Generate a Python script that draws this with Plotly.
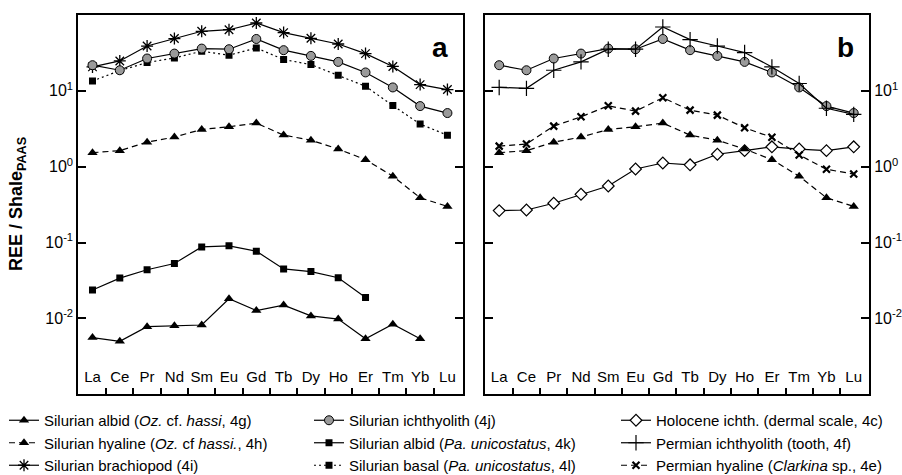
import plotly.graph_objects as go

# ---- data ----
elements = ["La", "Ce", "Pr", "Nd", "Sm", "Eu", "Gd", "Tb", "Dy", "Ho", "Er", "Tm", "Yb", "Lu"]

sil_albid_oz = [0.0056, 0.0050, 0.0078, 0.0080, 0.0082, 0.0182, 0.0127, 0.0150, 0.0108, 0.0098, 0.0054, 0.0084, 0.0054, None]
sil_hyaline_oz = [1.53, 1.63, 2.11, 2.46, 3.10, 3.36, 3.76, 2.61, 2.24, 1.71, 1.24, 0.75, 0.39, 0.30]
sil_brachiopod = [20.7, 24.8, 39.0, 48.9, 61.0, 64.0, 78.5, 58.6, 49.3, 41.5, 31.0, 21.0, 12.1, 10.4]
sil_ichthyolith = [21.8, 18.7, 26.7, 31.0, 36.1, 35.4, 48.3, 34.4, 28.9, 24.1, 17.5, 11.1, 6.3, 5.1]
sil_albid_pa = [0.0237, 0.034, 0.0438, 0.053, 0.0877, 0.0905, 0.077, 0.045, 0.0415, 0.0344, 0.0189, None, None, None]
sil_basal_pa = [13.5, 18.5, 23.6, 27.2, 33.3, 29.5, 36.8, 25.9, 22.2, 16.1, 11.5, 6.4, 3.65, 2.6]
hol_ichth = [0.264, 0.269, 0.33, 0.433, 0.557, 0.933, 1.12, 1.06, 1.46, 1.63, 1.83, 1.71, 1.63, 1.83]
perm_ichth = [11.1, 10.8, 18.7, 24.1, 35.4, 35.4, 69.5, 47.4, 39.0, 32.0, 20.7, 12.5, 5.9, 4.9]
perm_hyaline = [1.87, 1.99, 3.43, 4.55, 6.35, 5.41, 8.1, 5.57, 4.79, 3.26, 2.44, 1.43, 0.925, 0.80]

y_tickvals = [0.01, 0.1, 1, 10]
y_ticktext = ["10<sup>-2</sup>", "10<sup>-1</sup>", "10<sup>0</sup>", "10<sup>1</sup>"]

names = {
    "albid_oz": "Silurian albid (<i>Oz.</i> cf. <i>hassi</i>, 4g)",
    "hyaline_oz": "Silurian hyaline (<i>Oz.</i> cf <i>hassi.</i>, 4h)",
    "brachiopod": "Silurian brachiopod (4i)",
    "ichthyolith": "Silurian ichthyolith (4j)",
    "albid_pa": "Silurian albid (<i>Pa. unicostatus</i>, 4k)",
    "basal_pa": "Silurian basal (<i>Pa. unicostatus</i>, 4l)",
    "holocene": "Holocene ichth. (dermal scale, 4c)",
    "perm_ichth": "Permian ichthyolith (tooth, 4f)",
    "perm_hyaline": "Permian hyaline (<i>Clarkina</i> sp., 4e)",
}

x_pos = list(range(len(elements)))
x_bounds = [i + 0.5 for i in range(len(elements) - 1)]

DASH = "6px,4px"
DOT = "2px,3px"
LW = 1.2

fig = go.Figure()


def add(y, name, xa, ya, symbol, size, mcolor, mline, dash, legend, rank, show=True):
    fig.add_trace(go.Scatter(
        x=x_pos, y=y, name=name, mode="lines+markers",
        xaxis=xa, yaxis=ya,
        line=dict(color="black", width=LW, dash=dash),
        marker=dict(symbol=symbol, size=size, color=mcolor,
                    line=dict(color="black", width=mline)),
        legend=legend, legendrank=rank, showlegend=show,
        connectgaps=False,
    ))


# panel a
add(sil_basal_pa, names["basal_pa"], "x", "y", "square", 7, "black", 0, DOT, "legend2", 3)
add(sil_albid_pa, names["albid_pa"], "x", "y", "square", 7, "black", 0, "solid", "legend2", 2)
add(sil_albid_oz, names["albid_oz"], "x", "y", "triangle-up", 9, "black", 0, "solid", "legend", 1)
add(sil_hyaline_oz, names["hyaline_oz"], "x", "y", "triangle-up", 9, "black", 0, DASH, "legend", 2)
add(sil_brachiopod, names["brachiopod"], "x", "y", "asterisk-open", 10, "black", 1.3, "solid", "legend", 3)
add(sil_ichthyolith, names["ichthyolith"], "x", "y", "circle", 9, "#9a9a9a", 1, "solid", "legend2", 1)

# panel b
add(hol_ichth, names["holocene"], "x2", "y2", "diamond", 9, "white", 1.2, "solid", "legend3", 1)
add(sil_hyaline_oz, names["hyaline_oz"], "x2", "y2", "triangle-up", 9, "black", 0, DASH, "legend", 2, show=False)
add(perm_hyaline, names["perm_hyaline"], "x2", "y2", "x-thin-open", 7, "black", 2.2, DASH, "legend3", 3)
add(sil_ichthyolith, names["ichthyolith"], "x2", "y2", "circle", 9, "#9a9a9a", 1, "solid", "legend2", 1, show=False)
add(perm_ichth, names["perm_ichth"], "x2", "y2", "cross-thin-open", 11, "black", 1.2, "solid", "legend3", 2)

FONT = "Liberation Sans, Arial, Helvetica, sans-serif"
XRANGE = [-0.52, 13.56]
YDOM = [0.1699, 0.9684]


def xaxis(domain, anchor):
    return dict(
        domain=domain, range=XRANGE, anchor=anchor, automargin=False,
        showgrid=False, zeroline=False,
        showline=True, linecolor="black", linewidth=2, mirror=True,
        tickmode="array", tickvals=x_pos, ticktext=elements, ticks="",
        ticklabelposition="inside", ticklabelstandoff=9,
        tickfont=dict(size=15, color="black"),
        minor=dict(tickmode="array", tickvals=x_bounds, ticks="inside",
                   ticklen=6, tickwidth=1.6, tickcolor="black", showgrid=False),
        fixedrange=True,
    )


def yaxis(anchor, side):
    return dict(
        domain=YDOM, type="log", range=[-3, 2], anchor=anchor, side=side,
        automargin=False,
        showgrid=False, zeroline=False, showline=True, linecolor="black", linewidth=2,
        mirror="ticks", ticks="inside", ticklen=8, tickwidth=1.5, tickcolor="black",
        tickmode="array", tickvals=y_tickvals, ticktext=y_ticktext,
        tickfont=dict(size=16, color="black"), fixedrange=True,
    )


leg_common = dict(yanchor="top", xanchor="left", bgcolor="rgba(0,0,0,0)",
                  font=dict(size=15, family=FONT, color="black"), itemwidth=30,
                  tracegroupgap=0, orientation="v")

LEG_Y = 1 - 404 / 475

fig.update_layout(
    width=902, height=475,
    margin=dict(l=0, r=0, t=0, b=0, autoexpand=False),
    paper_bgcolor="white", plot_bgcolor="white",
    font=dict(family=FONT, size=15, color="black"),
    xaxis=xaxis([0.0868, 0.5130], "y"),
    xaxis2=xaxis([0.5377, 0.9634], "y2"),
    yaxis=yaxis("x", "left"),
    yaxis2=yaxis("x2", "right"),
    legend=dict(x=4 / 902, y=LEG_Y, **leg_common),
    legend2=dict(x=309 / 902, y=LEG_Y, **leg_common),
    legend3=dict(x=616 / 902, y=LEG_Y, **leg_common),
    showlegend=True,
    annotations=[
        dict(text="<b>REE / Shale<sub>PAAS</sub></b>", xref="paper", yref="paper",
             x=17 / 902, y=1 - 204 / 475, textangle=-90, showarrow=False,
             font=dict(size=18), xanchor="center", yanchor="middle"),
        dict(text="<b>a</b>", xref="paper", yref="paper", x=450 / 902, y=1 - 47 / 475,
             showarrow=False, font=dict(size=28), xanchor="right", yanchor="middle"),
        dict(text="<b>b</b>", xref="paper", yref="paper", x=856 / 902, y=1 - 47 / 475,
             showarrow=False, font=dict(size=28), xanchor="right", yanchor="middle"),
    ],
)

fig.write_html("out.html", config={"displayModeBar": False},
               post_script="document.body.style.margin='0px';")
